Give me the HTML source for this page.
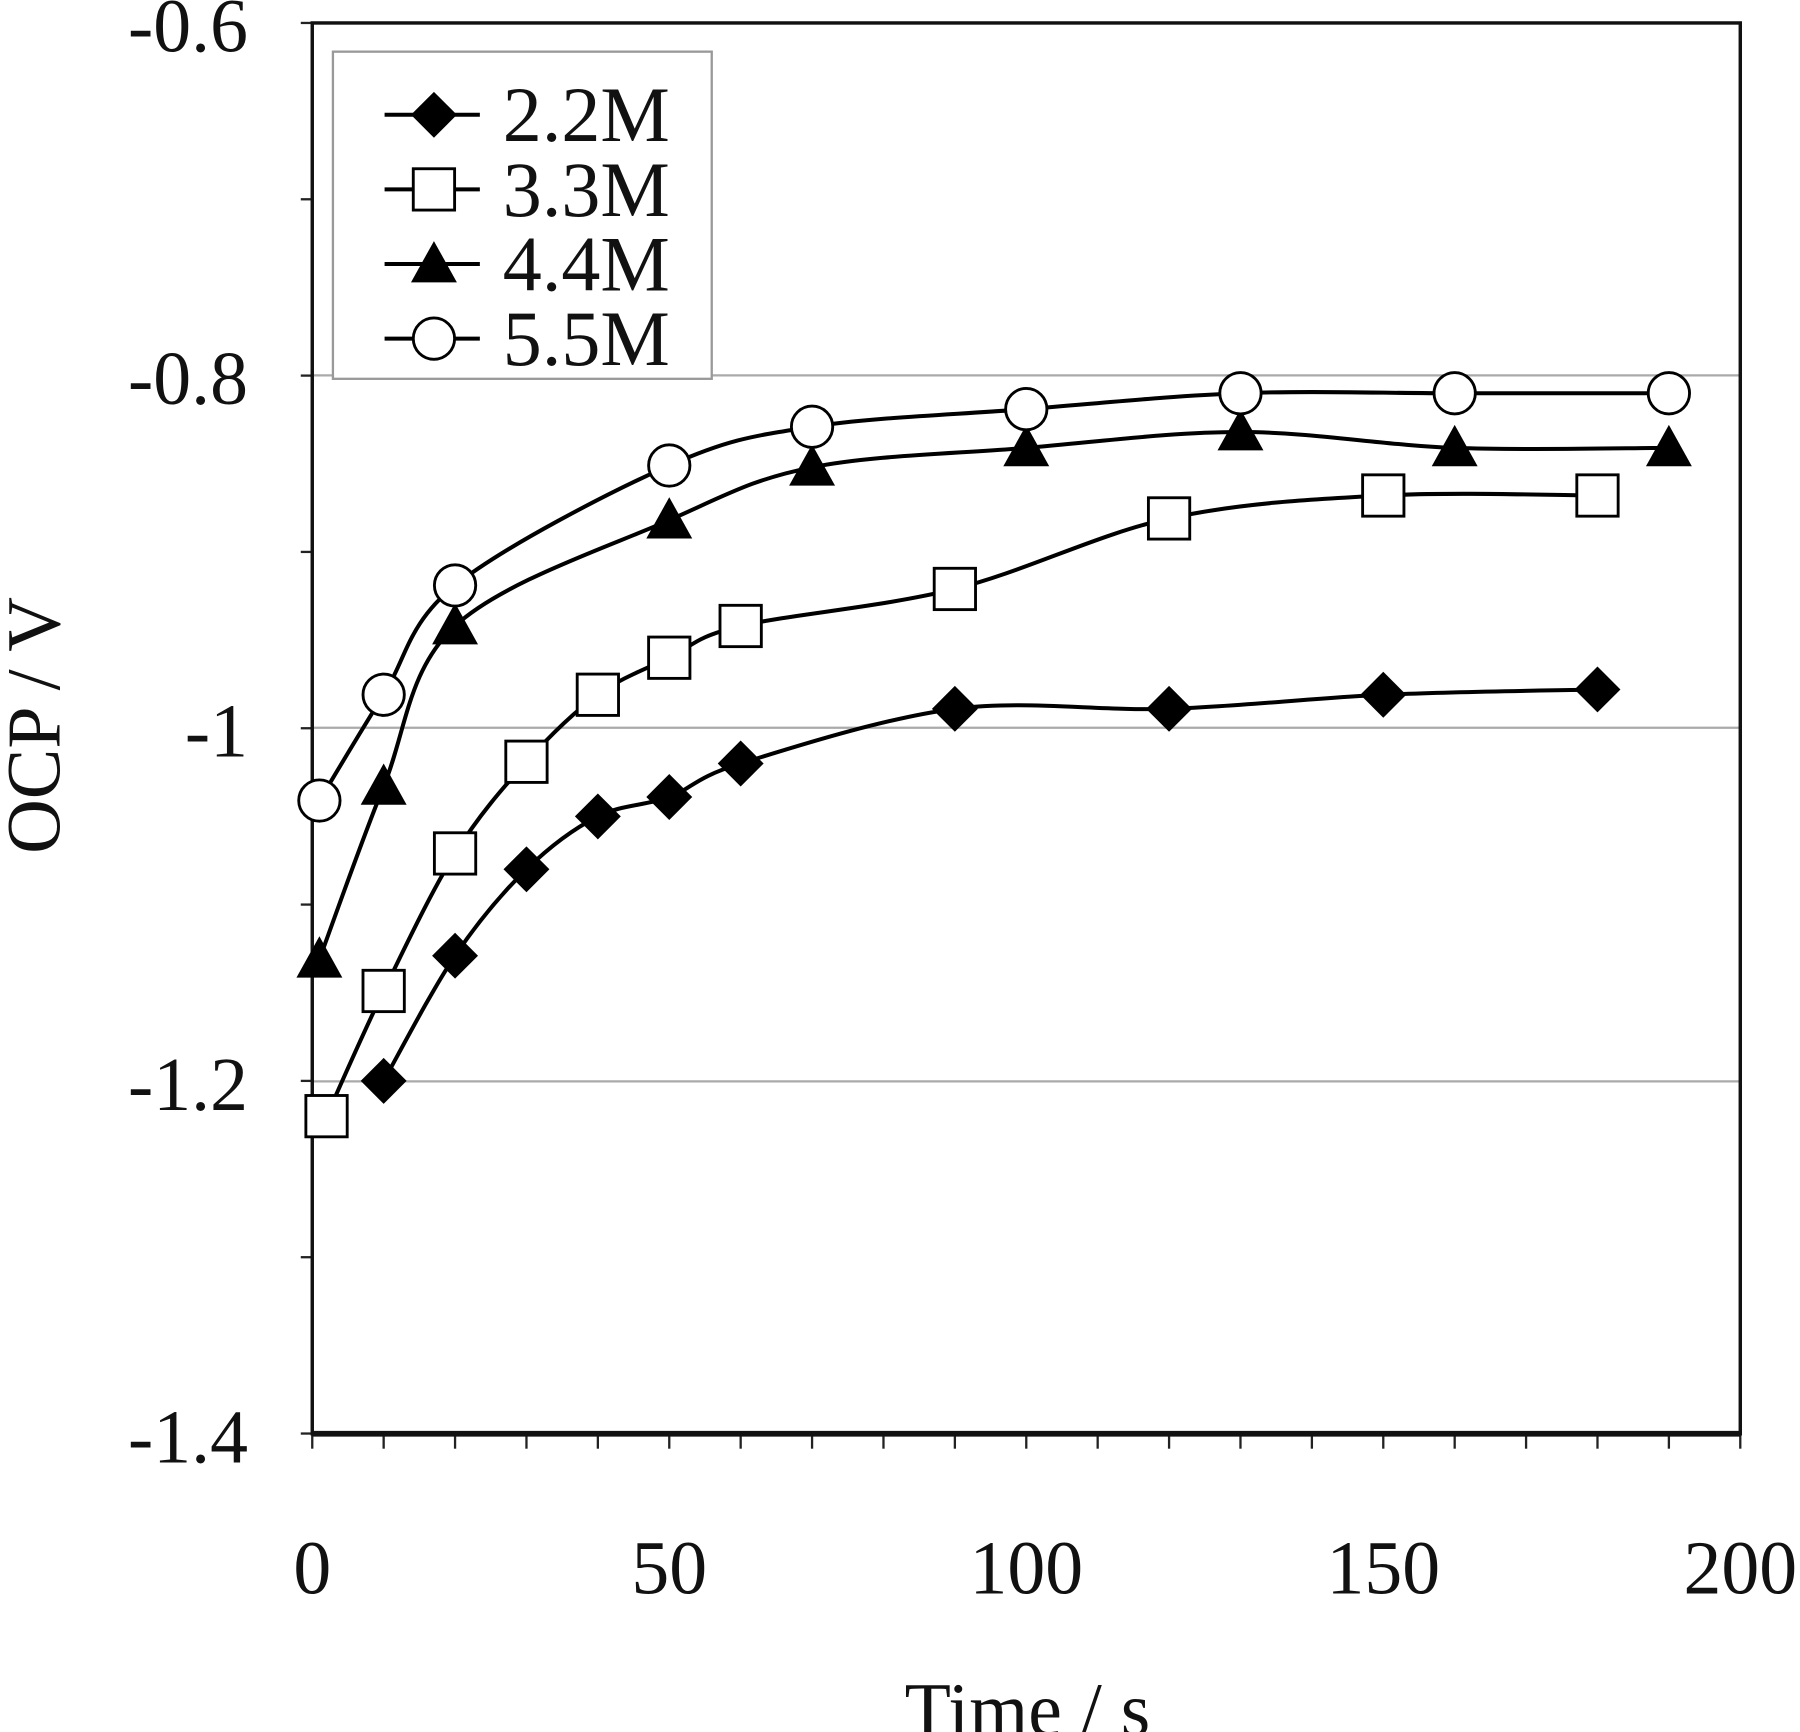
<!DOCTYPE html>
<html><head><meta charset="utf-8"><style>
html,body{margin:0;padding:0;background:#fff}
svg{display:block}
text{font-family:"Liberation Serif",serif;fill:#111}
</style></head><body>
<svg id="s" width="1800" height="1732" viewBox="0 0 1568 1508.8" xmlns="http://www.w3.org/2000/svg">
<rect width="1568" height="1509" fill="#fff"/>
<g stroke="#aaa" stroke-width="2">
<line x1="272" x2="1516" y1="327" y2="327"/>
<line x1="272" x2="1516" y1="634" y2="634"/>
<line x1="272" x2="1516" y1="942" y2="942"/>
</g>
<g id="ticks" stroke="#222" stroke-width="2"></g>
<rect x="272" y="20" width="1244" height="1229" fill="none" stroke="#111" stroke-width="3"/>
<line x1="272" x2="1516" y1="1249" y2="1249" stroke="#111" stroke-width="5"/>
<g font-size="66" text-anchor="end">
<text x="216" y="45">-0.6</text>
<text x="216" y="352">-0.8</text>
<text x="216" y="659">-1</text>
<text x="216" y="967">-1.2</text>
<text x="216" y="1274">-1.4</text>
</g>
<g font-size="66" text-anchor="middle">
<text x="272" y="1388">0</text>
<text x="583" y="1388">50</text>
<text x="894" y="1388">100</text>
<text x="1205" y="1388">150</text>
<text x="1516" y="1388">200</text>
<text x="895" y="1512">Time / s</text>
</g>
<text font-size="66" text-anchor="middle" transform="translate(52,632) rotate(-90)">OCP / V</text>
<rect x="290" y="45" width="330" height="285" fill="#fff" stroke="#999" stroke-width="2"/>
<g font-size="68">
<text x="438" y="123">2.2M</text>
<text x="438" y="188">3.3M</text>
<text x="438" y="253">4.4M</text>
<text x="438" y="318">5.5M</text>
</g>
<g id="data"></g>
</svg>
<script>
const X=t=>272+t*6.22, Y=v=>20+(-0.6-v)*1536;
let tk='';
for(let v=-0.6;v>=-1.4001;v-=0.1){tk+=`<line x1="262" x2="272" y1="${Y(v)}" y2="${Y(v)}"/>`}
for(let t=0;t<=200;t+=10){tk+=`<line x1="${X(t)}" x2="${X(t)}" y1="1249" y2="1262"/>`}
document.getElementById('ticks').innerHTML=tk;
const S=[
 {m:'d',p:[[10,-1.2],[20,-1.129],[30,-1.08],[40,-1.05],[50,-1.039],[60,-1.02],[90,-0.989],[120,-0.989],[150,-0.981],[180,-0.978]]},
 {m:'s',p:[[2,-1.22],[10,-1.149],[20,-1.071],[30,-1.019],[40,-0.981],[50,-0.96],[60,-0.942],[90,-0.921],[120,-0.881],[150,-0.868],[180,-0.868]]},
 {m:'t',p:[[1,-1.131],[10,-1.033],[20,-0.942],[50,-0.882],[70,-0.852],[100,-0.841],[130,-0.832],[160,-0.841],[190,-0.841]]},
 {m:'c',p:[[1,-1.041],[10,-0.981],[20,-0.919],[50,-0.851],[70,-0.829],[100,-0.819],[130,-0.81],[160,-0.81],[190,-0.81]]}
];
function mk(m,x,y){
 if(m=='d')return `<polygon points="${x},${y-20} ${x+20},${y} ${x},${y+20} ${x-20},${y}" fill="#000"/>`;
 if(m=='s')return `<rect x="${x-18}" y="${y-18}" width="36" height="36" fill="#fff" stroke="#000" stroke-width="2.5"/>`;
 if(m=='t')return `<polygon points="${x},${y-20} ${x+20},${y+16} ${x-20},${y+16}" fill="#000"/>`;
 return `<circle cx="${x}" cy="${y}" r="18" fill="#fff" stroke="#000" stroke-width="2.5"/>`;
}
let out='';
for(const s of S){
 const P=s.p.map(([t,v])=>[X(t),Y(v)]);
 let d=`M${P[0][0]},${P[0][1]}`;
 for(let i=0;i<P.length-1;i++){
  const p0=P[Math.max(0,i-1)],p1=P[i],p2=P[i+1],p3=P[Math.min(P.length-1,i+2)],k=0.5/3;
  d+=` C${p1[0]+(p2[0]-p0[0])*k},${p1[1]+(p2[1]-p0[1])*k} ${p2[0]-(p3[0]-p1[0])*k},${p2[1]-(p3[1]-p1[1])*k} ${p2[0]},${p2[1]}`;
 }
 out+=`<path d="${d}" fill="none" stroke="#000" stroke-width="3.5"/>`;
 for(const p of P)out+=mk(s.m,p[0],p[1]);
}
const ly=[100,165,230,295];
S.forEach((s,i)=>{out+=`<line x1="335" x2="418" y1="${ly[i]}" y2="${ly[i]}" stroke="#000" stroke-width="3.5"/>`+mk(s.m,378,ly[i]);});
document.getElementById('data').innerHTML=out;
</script>
</body></html>
